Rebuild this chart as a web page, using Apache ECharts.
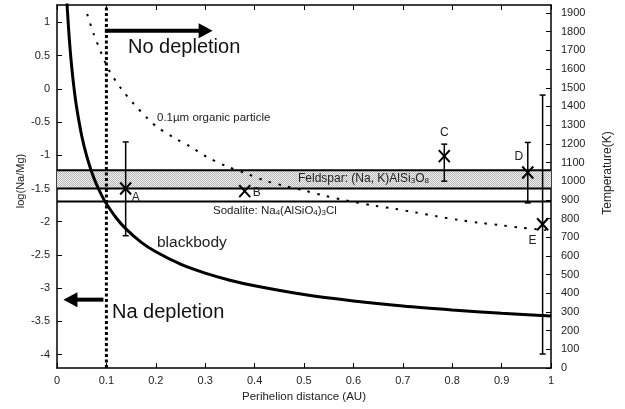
<!DOCTYPE html>
<html>
<head>
<meta charset="utf-8">
<script src="https://cdn.jsdelivr.net/npm/echarts@6/dist/echarts.min.js"></script>
<style>
  html, body { margin: 0; padding: 0; background: #fff; }
  #chart { width: 625px; height: 409px; }
</style>
</head>
<body>
<div id="chart"></div>
<script>
// ---- values ----
const logTicks = [-4, -3.5, -3, -2.5, -2, -1.5, -1, -0.5, 0, 0.5, 1];

// blackbody equilibrium temperature (K) against perihelion distance (AU)
const blackbodyR = [0.019, 0.021, 0.025, 0.03, 0.035, 0.04, 0.05, 0.06, 0.07, 0.08, 0.09, 0.1, 0.12, 0.14, 0.17, 0.2, 0.25, 0.3, 0.35, 0.4, 0.5, 0.6, 0.7, 0.8, 0.9, 1.0];
const blackbodyT = [2017, 1918, 1758, 1605, 1486, 1390, 1243, 1135, 1051, 983, 927, 879, 803, 743, 674, 622, 556, 508, 470, 440, 393, 359, 332, 311, 293, 278];

// 0.1 µm organic particle temperature (K)
const organicR = [0.061, 0.074, 0.089, 0.105, 0.13, 0.155, 0.183, 0.2, 0.235, 0.27, 0.303, 0.343, 0.384, 0.421, 0.46, 0.502, 0.543, 0.583, 0.644, 0.684, 0.725, 0.769, 0.812, 0.856, 0.897, 0.934, 0.971, 0.99];
const organicT = [1895, 1790, 1690, 1595, 1495, 1415, 1337, 1295, 1235, 1185, 1130, 1080, 1040, 1003, 975, 949, 921, 898, 868, 852, 833, 812, 793, 777, 765, 752, 743, 738];

// observed comets: log(Na/Mg) with error ranges
const pointNames = ['A', 'B', 'C', 'D', 'E'];
const pointR     = [0.139, 0.38, 0.784, 0.953, 0.983];
const pointLog   = [-1.5, -1.54, -1.014, -1.259, -2.038];
const errLow     = [-2.21, null, -1.39, -1.717, -3.99];
const errHigh    = [-0.8, null, -0.833, -0.807, -0.095];

// condensation levels, in log(Na/Mg) units
const feldsparBand = [-1.5, -1.224];
const sodaliteLevel = -1.696;
const depletionLimit = 0.1;

// direction arrows: [fromR, fromLog, toR, toLog]
const arrows = [
  [0.097, 0.873, 0.315, 0.873],
  [0.094, -3.172, 0.013, -3.172]
];

// ---- styling ----
const FONT = '"Liberation Sans", Arial, Helvetica, sans-serif';
const TXT = '#222';
const labelOffset = { A: [10, 9], B: [12, 2], C: [0, -23], D: [-9, -16], E: [-10, 16] };

function stipple() {
  const c = document.createElement('canvas');
  c.width = 2; c.height = 2;
  const g = c.getContext('2d');
  g.fillStyle = '#f0f0f0'; g.fillRect(0, 0, 2, 2);
  g.fillStyle = '#b8b8b8'; g.fillRect(0, 0, 1, 1); g.fillRect(1, 1, 1, 1);
  return c;
}

const chart = echarts.init(document.getElementById('chart'), null, { renderer: 'canvas' });

const frameLine = { show: true, onZero: false, lineStyle: { color: '#000', width: 1.5 } };
const tickStyle = { show: true, inside: true, length: 5, lineStyle: { color: '#000', width: 1 } };
const tickLabel = { fontSize: 11, color: TXT, fontFamily: FONT };

function hLine(level, width) {
  return {
    type: 'line', xAxisIndex: 0, yAxisIndex: 0, silent: true, symbol: 'none',
    lineStyle: { color: '#000', width: width }, z: 4,
    data: [[0, level], [1, level]]
  };
}

const option = {
  animation: false,
  backgroundColor: '#fff',
  grid: { left: 57, top: 5, width: 494, height: 363, containLabel: false },
  xAxis: [
    { type: 'value', position: 'bottom', min: 0, max: 1, interval: 0.1,
      axisLine: frameLine, axisTick: tickStyle, splitLine: { show: false },
      axisLabel: Object.assign({ margin: 7 }, tickLabel) },
    { type: 'value', position: 'top', min: 0, max: 1, interval: 0.1,
      axisLine: frameLine, axisTick: tickStyle, splitLine: { show: false },
      axisLabel: { show: false } }
  ],
  yAxis: [
    { type: 'value', position: 'left', min: -4.2, max: 1.26,
      axisLine: frameLine, splitLine: { show: false },
      axisTick: Object.assign({ customValues: logTicks }, tickStyle),
      axisLabel: Object.assign({ customValues: logTicks, margin: 7 }, tickLabel) },
    { type: 'value', position: 'right', min: 0, max: 1943, interval: 100,
      axisLine: frameLine, splitLine: { show: false },
      axisTick: tickStyle,
      axisLabel: Object.assign({ margin: 10, showMaxLabel: false, formatter: v => String(v) }, tickLabel) }
  ],
  series: [
    // Feldspar condensation band
    {
      type: 'line', xAxisIndex: 0, yAxisIndex: 0, silent: true, symbol: 'none', data: [],
      markArea: {
        silent: true,
        itemStyle: { color: { image: stipple(), repeat: 'repeat' }, borderWidth: 0 },
        data: [[{ coord: [0, feldsparBand[0]] }, { coord: [1, feldsparBand[1]] }]]
      },
      z: 1
    },
    hLine(feldsparBand[0], 2),
    hLine(feldsparBand[1], 2),
    hLine(sodaliteLevel, 2),
    // blackbody temperature
    {
      type: 'line', xAxisIndex: 0, yAxisIndex: 1, silent: true, symbol: 'none', smooth: 0.3,
      clip: true, lineStyle: { color: '#000', width: 3 }, z: 5,
      data: blackbodyR.map((r, i) => [r, blackbodyT[i]])
    },
    // organic particle temperature
    {
      type: 'line', xAxisIndex: 0, yAxisIndex: 1, silent: true, symbol: 'none', smooth: 0.3,
      clip: true, lineStyle: { color: '#000', width: 2, type: [2.5, 7.5] }, z: 5,
      data: organicR.map((r, i) => [r, organicT[i]])
    },
    // depletion boundary
    {
      type: 'line', xAxisIndex: 0, yAxisIndex: 0, silent: true, symbol: 'none',
      lineStyle: { color: '#000', width: 3, type: [3, 2.5] }, z: 6,
      data: [[depletionLimit, -4.2], [depletionLimit, 1.26]]
    },
    // arrows either side of the boundary
    {
      type: 'custom', xAxisIndex: 0, yAxisIndex: 0, silent: true, z: 7,
      data: arrows,
      encode: { x: [0, 2], y: [1, 3] },
      renderItem: function (params, api) {
        const p0 = api.coord([api.value(0), api.value(1)]);
        const p1 = api.coord([api.value(2), api.value(3)]);
        const dx = p1[0] - p0[0], dy = p1[1] - p0[1];
        const len = Math.sqrt(dx * dx + dy * dy);
        const ux = dx / len, uy = dy / len;
        const headLen = 14, headHalf = 7.5;
        const bx = p1[0] - ux * headLen, by = p1[1] - uy * headLen;
        return {
          type: 'group',
          children: [
            { type: 'line', shape: { x1: p0[0], y1: p0[1], x2: bx + ux, y2: by + uy },
              style: { stroke: '#000', lineWidth: 4 } },
            { type: 'polygon',
              shape: { points: [[p1[0], p1[1]], [bx - uy * headHalf, by + ux * headHalf], [bx + uy * headHalf, by - ux * headHalf]] },
              style: { fill: '#000' } }
          ]
        };
      }
    },
    // comet measurements with error bars
    {
      type: 'custom', xAxisIndex: 0, yAxisIndex: 0, silent: true, z: 8,
      data: pointR.map((r, i) => [r, pointLog[i]]),
      encode: { x: 0, y: 1 },
      renderItem: function (params, api) {
        const i = params.dataIndex;
        const x = api.value(0);
        const c = api.coord([x, api.value(1)]);
        const bar = { stroke: '#000', lineWidth: 1.5 };
        const kids = [];
        if (errLow[i] != null) {
          const lo = api.coord([x, errLow[i]]);
          const hi = api.coord([x, errHigh[i]]);
          kids.push({ type: 'line', shape: { x1: lo[0], y1: lo[1], x2: hi[0], y2: hi[1] }, style: bar });
          kids.push({ type: 'line', shape: { x1: lo[0] - 3, y1: lo[1], x2: lo[0] + 3, y2: lo[1] }, style: bar });
          kids.push({ type: 'line', shape: { x1: hi[0] - 3, y1: hi[1], x2: hi[0] + 3, y2: hi[1] }, style: bar });
        }
        const mark = { stroke: '#000', lineWidth: 2 };
        kids.push({ type: 'line', shape: { x1: c[0] - 5.5, y1: c[1] - 6, x2: c[0] + 5.5, y2: c[1] + 6 }, style: mark });
        kids.push({ type: 'line', shape: { x1: c[0] - 5.5, y1: c[1] + 6, x2: c[0] + 5.5, y2: c[1] - 6 }, style: mark });
        const off = labelOffset[pointNames[i]];
        kids.push({
          type: 'text', x: c[0] + off[0], y: c[1] + off[1],
          style: { text: pointNames[i], fill: TXT, font: '12px ' + FONT, align: 'center', verticalAlign: 'middle' }
        });
        return { type: 'group', children: kids };
      }
    }
  ],
  graphic: [
    { type: 'text', left: 128, top: 37, silent: true,
      style: { text: 'No depletion', fill: '#111', font: '20px ' + FONT } },
    { type: 'text', left: 112, top: 302, silent: true,
      style: { text: 'Na depletion', fill: '#111', font: '20px ' + FONT } },
    { type: 'text', left: 157, top: 112, silent: true,
      style: { text: '0.1µm organic particle', fill: TXT, font: '11.5px ' + FONT } },
    { type: 'text', left: 157, top: 235, silent: true,
      style: { text: 'blackbody', fill: TXT, font: '15.5px ' + FONT } },
    { type: 'text', left: 298, top: 173, silent: true, z: 10,
      style: {
        text: 'Feldspar: (Na, K)AlSi{s|3}O{s|8}', fill: TXT, font: '12px ' + FONT,
        rich: { s: { fontSize: 8, fontFamily: FONT, fill: TXT, verticalAlign: 'bottom' } }
      } },
    { type: 'text', left: 213, top: 205, silent: true, z: 10,
      style: {
        text: 'Sodalite: Na{s|4}(AlSiO{s|4}){s|3}Cl', fill: TXT, font: '11.5px ' + FONT,
        rich: { s: { fontSize: 8, fontFamily: FONT, fill: TXT, verticalAlign: 'bottom' } }
      } },
    { type: 'text', x: 21, y: 181, rotation: Math.PI / 2, silent: true,
      style: { text: 'log(Na/Mg)', fill: TXT, font: '11px ' + FONT, align: 'center', verticalAlign: 'middle' } },
    { type: 'text', x: 608, y: 173, rotation: Math.PI / 2, silent: true,
      style: { text: 'Temperature(K)', fill: TXT, font: '12px ' + FONT, align: 'center', verticalAlign: 'middle' } },
    { type: 'text', x: 304, y: 397, silent: true,
      style: { text: 'Perihelion distance (AU)', fill: TXT, font: '11.5px ' + FONT, align: 'center', verticalAlign: 'middle' } }
  ]
};

chart.setOption(option);
</script>
</body>
</html>
